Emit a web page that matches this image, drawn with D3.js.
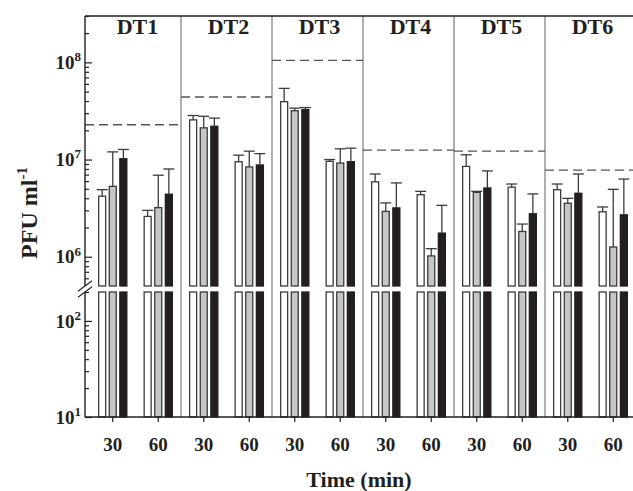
<!DOCTYPE html>
<html>
<head>
<meta charset="utf-8">
<script src="https://cdn.jsdelivr.net/npm/d3@7"></script>
<style>
  body { margin: 0; background: #fff; }
  svg { font-family: "Liberation Serif", "Times New Roman", serif; font-weight: bold; }
</style>
</head>
<body>
<script>
// ------------  DATA  ------------
const panels = ["DT1", "DT2", "DT3", "DT4", "DT5", "DT6"];
const times = ["30", "60"];
const treatments = ["white", "grey", "black"];

// dashed reference level per panel
const inputTiter = [2.28e7, 4.4e7, 1.05e8, 1.25e7, 1.22e7, 7.8e6];

// bar heights, [panel][time][treatment]
const means = [
  [[4.2e6, 5.3e6, 1.02e7], [2.6e6, 3.2e6, 4.4e6]],
  [[2.56e7, 2.12e7, 2.2e7], [9.5e6, 8.4e6, 8.8e6]],
  [[3.94e7, 3.18e7, 3.27e7], [9.6e6, 9.2e6, 9.5e6]],
  [[5.9e6, 2.93e6, 3.18e6], [4.35e6, 1.02e6, 1.75e6]],
  [[8.5e6, 4.6e6, 5.1e6], [5.2e6, 1.82e6, 2.77e6]],
  [[4.9e6, 3.55e6, 4.5e6], [2.9e6, 1.26e6, 2.7e6]]
];
// top of the error bars
const errTop = [
  [[4.9e6, 1.2e7, 1.27e7], [3.0e6, 6.9e6, 8.0e6]],
  [[2.84e7, 2.79e7, 2.67e7], [1.11e7, 1.22e7, 1.15e7]],
  [[5.4e7, 3.38e7, 3.43e7], [1.0e7, 1.29e7, 1.31e7]],
  [[7.1e6, 3.58e6, 5.75e6], [4.71e6, 1.21e6, 3.38e6]],
  [[1.12e7, 4.71e6, 7.64e6], [5.6e6, 2.17e6, 4.43e6]],
  [[5.6e6, 3.99e6, 7.1e6], [3.25e6, 4.94e6, 6.3e6]]
];

const hiMajor = [1e6, 1e7, 1e8];
const hiMinor = [6e5, 7e5, 8e5, 9e5, 2e6, 3e6, 4e6, 5e6, 6e6, 7e6, 8e6, 9e6,
                 2e7, 3e7, 4e7, 5e7, 6e7, 7e7, 8e7, 9e7, 2e8, 3e8];
const loMajor = [10, 100];
const loMinor = [20, 30, 40, 50, 60, 70, 80, 90, 200];

// ------------  PARAMETERS  ------------
const W = 633, H = 491;
const axisX = 85, topY = 16, bottomY = 417;
const ink = "#231f20";
const fills = { white: "#ffffff", grey: "#c6c6c6", black: "#231f20" };

const svg = d3.select("body").append("svg").attr("width", W).attr("height", H);

// ------------  SCALES  ------------
const x0 = d3.scaleBand().domain(panels).range([90, 636]);
const x1 = d3.scaleBand().domain(times).range([0, x0.bandwidth()]);
const x2 = d3.scaleBand().domain(treatments).range([-14.1, 14.1]).paddingInner(0.34);

const yHi = d3.scaleLog().domain([5e5, 3e8]).range([286, topY]);
const yLo = d3.scaleLog().domain([10, 200]).range([bottomY, 292]);

// ------------  PANEL DIVIDERS  ------------
svg.selectAll("line.divider")
  .data(panels.slice(1))
  .enter().append("line")
  .attr("class", "divider")
  .attr("x1", d => x0(d)).attr("x2", d => x0(d))
  .attr("y1", topY).attr("y2", bottomY)
  .attr("stroke", "#7a7a7a").attr("stroke-width", 1.2);

// ------------  DASHED LEVELS  ------------
svg.selectAll("line.level")
  .data(panels)
  .enter().append("line")
  .attr("class", "level")
  .attr("x1", (d, i) => i === 0 ? axisX : x0(d))
  .attr("x2", d => x0(d) + x0.bandwidth())
  .attr("y1", (d, i) => yHi(inputTiter[i]))
  .attr("y2", (d, i) => yHi(inputTiter[i]))
  .attr("stroke", "#555").attr("stroke-width", 1.3)
  .attr("stroke-dasharray", "9,5");

// ------------  BARS  ------------
const flat = [];
panels.forEach((p, i) => times.forEach((t, j) => treatments.forEach((k, m) => {
  flat.push({ p, t, k, v: means[i][j][m], e: errTop[i][j][m] });
})));
const cx = d => x0(d.p) + x1(d.t) + x1.bandwidth() / 2 + x2(d.k);

const bars = svg.append("g");
// lower segment (below the break)
bars.selectAll("rect.lo")
  .data(flat).enter().append("rect")
  .attr("class", "lo")
  .attr("x", d => cx(d))
  .attr("width", x2.bandwidth())
  .attr("y", yLo(200))
  .attr("height", yLo(10) - yLo(200))
  .attr("fill", d => fills[d.k])
  .attr("stroke", d => d.k === "black" ? ink : "#3a3a3a")
  .attr("stroke-width", 1.3);
// upper segment
bars.selectAll("rect.hi")
  .data(flat).enter().append("rect")
  .attr("class", "hi")
  .attr("x", d => cx(d))
  .attr("width", x2.bandwidth())
  .attr("y", d => yHi(d.v))
  .attr("height", d => yHi(5e5) - yHi(d.v))
  .attr("fill", d => fills[d.k])
  .attr("stroke", d => d.k === "black" ? ink : "#3a3a3a")
  .attr("stroke-width", 1.3);

// ------------  ERROR BARS  ------------
const err = svg.append("g").attr("stroke", "#3c3c3c").attr("stroke-width", 1.3);
err.selectAll("line.stem")
  .data(flat).enter().append("line")
  .attr("x1", d => cx(d) + x2.bandwidth() / 2)
  .attr("x2", d => cx(d) + x2.bandwidth() / 2)
  .attr("y1", d => yHi(d.v)).attr("y2", d => yHi(d.e));
err.selectAll("line.cap")
  .data(flat).enter().append("line")
  .attr("x1", d => cx(d) + x2.bandwidth() / 2 - 5.5)
  .attr("x2", d => cx(d) + x2.bandwidth() / 2 + 5.5)
  .attr("y1", d => yHi(d.e)).attr("y2", d => yHi(d.e));

// ------------  AXES  ------------
const exponentLabel = function (d) {
  const t = d3.select(this).text(null).attr("font-size", 19);
  t.append("tspan").text("10");
  t.append("tspan").attr("font-size", 13).attr("dy", "-0.6em").text(Math.round(Math.log10(d)));
};

function yAxis(scale, major, minor) {
  svg.append("g")
    .attr("transform", `translate(${axisX},0)`)
    .call(d3.axisLeft(scale).tickValues(minor).tickSize(-4).tickFormat(""))
    .call(g => g.select(".domain").remove())
    .call(g => g.selectAll(".tick line").attr("stroke", ink).attr("stroke-width", 1.2));
  svg.append("g")
    .attr("transform", `translate(${axisX},0)`)
    .call(d3.axisLeft(scale).tickValues(major).tickSize(-7).tickPadding(4).tickFormat(d => d))
    .attr("font-family", null).attr("font-size", null)
    .call(g => g.select(".domain").remove())
    .call(g => g.selectAll(".tick line").attr("stroke", ink).attr("stroke-width", 1.2))
    .call(g => g.selectAll(".tick text").attr("fill", ink).each(exponentLabel));
}
yAxis(yHi, hiMajor, hiMinor);
yAxis(yLo, loMajor, loMinor);

// axis lines with the break
const frame = svg.append("g").attr("stroke", ink).attr("stroke-width", 1.4).attr("fill", "none");
frame.append("line").attr("x1", axisX).attr("x2", axisX).attr("y1", topY).attr("y2", yHi(5e5));
frame.append("line").attr("x1", axisX).attr("x2", axisX).attr("y1", yLo(200)).attr("y2", bottomY);
frame.append("line").attr("x1", axisX).attr("x2", 636).attr("y1", topY).attr("y2", topY);
frame.append("line").attr("x1", axisX).attr("x2", 636).attr("y1", bottomY).attr("y2", bottomY);
[yHi(5e5), yLo(200)].forEach(y => {
  frame.append("line").attr("x1", axisX - 7).attr("y1", y + 5.3)
    .attr("x2", axisX + 7).attr("y2", y - 5.3).attr("stroke-width", 1.1);
});

// x axis per panel
panels.forEach(p => {
  svg.append("g")
    .attr("transform", `translate(${x0(p)},${bottomY})`)
    .call(d3.axisBottom(x1).tickSize(5).tickPadding(16))
    .attr("font-family", null).attr("font-size", null)
    .call(g => g.select(".domain").remove())
    .call(g => g.selectAll(".tick line").attr("stroke", ink).attr("stroke-width", 1.2))
    .call(g => g.selectAll(".tick text").attr("fill", ink).attr("font-size", 19));
});

// ------------  TITLES  ------------
svg.selectAll("text.panel")
  .data(panels).enter().append("text")
  .attr("class", "panel")
  .attr("x", d => x0(d) + x0.bandwidth() / 2 + 2)
  .attr("y", 34)
  .attr("text-anchor", "middle")
  .attr("font-size", 22)
  .attr("fill", ink)
  .text(d => d);

svg.append("text")
  .attr("x", 359).attr("y", 487)
  .attr("text-anchor", "middle")
  .attr("font-size", 22).attr("fill", ink)
  .text("Time (min)");

const yt = svg.append("text")
  .attr("transform", "translate(37,213) rotate(-90)")
  .attr("text-anchor", "middle")
  .attr("font-size", 24).attr("fill", ink);
yt.append("tspan").text("PFU ml");
yt.append("tspan").attr("font-size", 15).attr("dy", "-0.7em").text("-1");
</script>
</body>
</html>
